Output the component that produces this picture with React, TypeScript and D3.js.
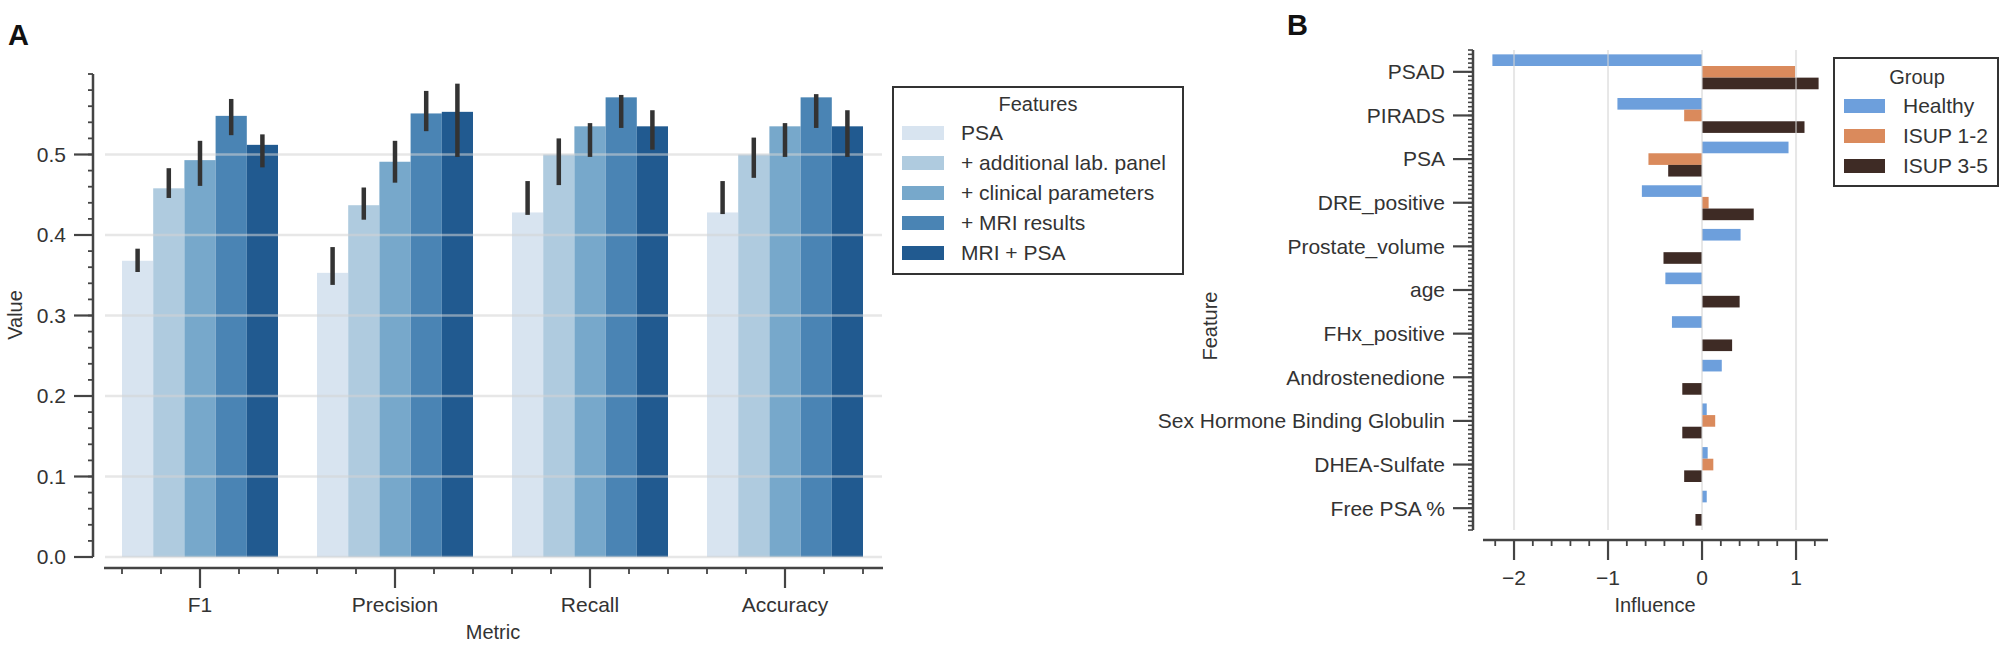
import React, { useEffect, useRef } from 'react'
import * as d3 from 'd3'

// Panel A: model performance by feature set
const metrics = ['F1', 'Precision', 'Recall', 'Accuracy']
const featureSets = ['PSA', '+ additional lab. panel', '+ clinical parameters', '+ MRI results', 'MRI + PSA']
const blues = ['#d8e4f0', '#afcbdf', '#77a8cb', '#4a84b4', '#215a90']

const psaVals = [0.368, 0.353, 0.428, 0.428]
const psaLo = [0.354, 0.338, 0.425, 0.426]
const psaHi = [0.383, 0.385, 0.467, 0.467]

const labVals = [0.458, 0.437, 0.5, 0.5]
const labLo = [0.446, 0.419, 0.462, 0.471]
const labHi = [0.483, 0.459, 0.52, 0.521]

const clinVals = [0.493, 0.491, 0.535, 0.535]
const clinLo = [0.461, 0.465, 0.497, 0.497]
const clinHi = [0.517, 0.517, 0.539, 0.539]

const mriVals = [0.548, 0.551, 0.571, 0.571]
const mriLo = [0.524, 0.529, 0.533, 0.533]
const mriHi = [0.569, 0.579, 0.574, 0.575]

const mriPsaVals = [0.512, 0.553, 0.535, 0.535]
const mriPsaLo = [0.484, 0.497, 0.506, 0.497]
const mriPsaHi = [0.525, 0.588, 0.555, 0.555]

const yTicksA = [0, 0.1, 0.2, 0.3, 0.4, 0.5]

// Panel B: feature influence per group
const features = [
  'PSAD', 'PIRADS', 'PSA', 'DRE_positive', 'Prostate_volume', 'age',
  'FHx_positive', 'Androstenedione', 'Sex Hormone Binding Globulin', 'DHEA-Sulfate', 'Free PSA %',
]
const groups = ['Healthy', 'ISUP 1-2', 'ISUP 3-5']
const groupColors = ['#6d9fdc', '#da8a5c', '#3e2b25']
const healthy = [-2.23, -0.9, 0.92, -0.64, 0.41, -0.39, -0.32, 0.21, 0.05, 0.06, 0.05]
const isup12 = [0.99, -0.19, -0.57, 0.07, 0, 0, 0, 0, 0.14, 0.12, 0]
const isup35 = [1.24, 1.09, -0.36, 0.55, -0.41, 0.4, 0.32, -0.21, -0.21, -0.19, -0.07]
const xTicksB = [-2, -1, 0, 1]

const FONT = 'Liberation Sans, Arial, Helvetica, sans-serif'
const TEXT = '#333'
const AXIS = '#444'

export default function App() {
  const svgRef = useRef<SVGSVGElement>(null)

  useEffect(() => {
    if (!svgRef.current) return
    const svg = d3.select(svgRef.current)
    svg.selectAll('*').remove()

    // ---------- Panel A ----------
    const a = svg.append('g')
    const x0 = d3.scaleBand().domain(metrics).range([102.5, 882.5]).padding(0)
    const x1 = d3.scaleBand().domain(featureSets).range([0, x0.bandwidth() * 0.8])
    const yA = d3.scaleLinear().domain([0, 0.6]).range([557, 74])

    const series = [
      { vals: psaVals, lo: psaLo, hi: psaHi },
      { vals: labVals, lo: labLo, hi: labHi },
      { vals: clinVals, lo: clinLo, hi: clinHi },
      { vals: mriVals, lo: mriLo, hi: mriHi },
      { vals: mriPsaVals, lo: mriPsaLo, hi: mriPsaHi },
    ]

    const barX = (m: string, f: string) => (x0(m) as number) + x0.bandwidth() * 0.1 + (x1(f) as number)

    series.forEach((s, si) => {
      a.selectAll(null)
        .data(metrics)
        .enter()
        .append('rect')
        .attr('x', m => barX(m, featureSets[si]))
        .attr('y', (_, i) => yA(s.vals[i]))
        .attr('width', x1.bandwidth())
        .attr('height', (_, i) => yA(0) - yA(s.vals[i]))
        .attr('fill', blues[si])
    })

    // gridlines drawn over bars, semi transparent
    a.selectAll(null)
      .data(yTicksA)
      .enter()
      .append('line')
      .attr('x1', 105).attr('x2', 882)
      .attr('y1', d => yA(d)).attr('y2', d => yA(d))
      .attr('stroke', '#d4d4d4')
      .attr('stroke-opacity', 0.55)
      .attr('stroke-width', 2.5)

    // error bars
    series.forEach((s, si) => {
      a.selectAll(null)
        .data(metrics)
        .enter()
        .append('line')
        .attr('x1', m => barX(m, featureSets[si]) + x1.bandwidth() / 2)
        .attr('x2', m => barX(m, featureSets[si]) + x1.bandwidth() / 2)
        .attr('y1', (_, i) => yA(s.lo[i]))
        .attr('y2', (_, i) => yA(s.hi[i]))
        .attr('stroke', '#333')
        .attr('stroke-width', 4.5)
    })

    // y axis
    a.append('line').attr('x1', 93).attr('x2', 93).attr('y1', yA(0.6)).attr('y2', yA(0))
      .attr('stroke', AXIS).attr('stroke-width', 2.5)
    a.selectAll(null).data(d3.range(0, 31).map(i => i * 0.02)).enter().append('line')
      .attr('x1', 88).attr('x2', 93)
      .attr('y1', d => yA(d)).attr('y2', d => yA(d))
      .attr('stroke', AXIS).attr('stroke-width', 1.8)
    a.selectAll(null).data(yTicksA).enter().append('line')
      .attr('x1', 74).attr('x2', 93)
      .attr('y1', d => yA(d)).attr('y2', d => yA(d))
      .attr('stroke', AXIS).attr('stroke-width', 2.2)
    a.selectAll(null).data(yTicksA).enter().append('text')
      .attr('x', 66).attr('y', d => yA(d))
      .attr('dy', '0.35em')
      .attr('text-anchor', 'end')
      .attr('font-size', 21).attr('font-family', FONT).attr('fill', TEXT)
      .text(d => d3.format('.1f')(d))
    a.append('text')
      .attr('transform', 'translate(22,315) rotate(-90)')
      .attr('text-anchor', 'middle')
      .attr('font-size', 20).attr('font-family', FONT).attr('fill', TEXT)
      .text('Value')

    // x axis
    const catPos = d3.scaleLinear().domain([-0.5, 3.5]).range([102.5, 882.5])
    a.append('line').attr('x1', 104).attr('x2', 883).attr('y1', 568).attr('y2', 568)
      .attr('stroke', AXIS).attr('stroke-width', 2.5)
    const minorA = d3.range(-2, 18).map(i => i * 0.2).filter(v => Math.abs(v - Math.round(v)) > 0.01)
    a.selectAll(null).data(minorA).enter().append('line')
      .attr('x1', d => catPos(d)).attr('x2', d => catPos(d))
      .attr('y1', 568).attr('y2', 574)
      .attr('stroke', AXIS).attr('stroke-width', 1.8)
    a.selectAll(null).data(metrics).enter().append('line')
      .attr('x1', m => (x0(m) as number) + x0.bandwidth() / 2)
      .attr('x2', m => (x0(m) as number) + x0.bandwidth() / 2)
      .attr('y1', 568).attr('y2', 588)
      .attr('stroke', AXIS).attr('stroke-width', 2.2)
    a.selectAll(null).data(metrics).enter().append('text')
      .attr('x', m => (x0(m) as number) + x0.bandwidth() / 2)
      .attr('y', 605).attr('dy', '0.35em')
      .attr('text-anchor', 'middle')
      .attr('font-size', 21).attr('font-family', FONT).attr('fill', TEXT)
      .text(m => m)
    a.append('text')
      .attr('x', 493).attr('y', 632).attr('dy', '0.35em')
      .attr('text-anchor', 'middle')
      .attr('font-size', 20).attr('font-family', FONT).attr('fill', TEXT)
      .text('Metric')

    a.append('text')
      .attr('x', 8).attr('y', 45)
      .attr('font-size', 29).attr('font-weight', 'bold').attr('font-family', FONT).attr('fill', '#111')
      .text('A')

    // legend A
    const legA = a.append('g')
    legA.append('rect').attr('x', 893).attr('y', 87).attr('width', 290).attr('height', 187)
      .attr('fill', 'white').attr('stroke', '#333').attr('stroke-width', 2)
    legA.append('text').attr('x', 1038).attr('y', 104).attr('dy', '0.35em')
      .attr('text-anchor', 'middle')
      .attr('font-size', 20).attr('font-family', FONT).attr('fill', TEXT)
      .text('Features')
    featureSets.forEach((f, i) => {
      const cy = 133 + i * 30
      legA.append('rect').attr('x', 902).attr('y', cy - 7).attr('width', 42).attr('height', 14).attr('fill', blues[i])
      legA.append('text').attr('x', 961).attr('y', cy).attr('dy', '0.35em')
        .attr('font-size', 21).attr('font-family', FONT).attr('fill', TEXT)
        .text(f)
    })

    // ---------- Panel B ----------
    const b = svg.append('g')
    const xB = d3.scaleLinear().domain([-2.33, 1.34]).range([1483, 1828])
    const yB = d3.scaleBand().domain(features).range([50, 530]).padding(0)
    const yG = d3.scaleBand().domain(groups).range([0, yB.bandwidth() * 0.8])
    const groupVals = [healthy, isup12, isup35]

    groupVals.forEach((vals, gi) => {
      b.selectAll(null)
        .data(features)
        .enter()
        .append('rect')
        .attr('x', (_, i) => xB(Math.min(0, vals[i])))
        .attr('y', f => (yB(f) as number) + yB.bandwidth() * 0.1 + (yG(groups[gi]) as number))
        .attr('width', (_, i) => Math.abs(xB(vals[i]) - xB(0)))
        .attr('height', yG.bandwidth())
        .attr('fill', groupColors[gi])
    })

    b.selectAll(null).data(xTicksB).enter().append('line')
      .attr('x1', d => xB(d)).attr('x2', d => xB(d))
      .attr('y1', 50).attr('y2', 530)
      .attr('stroke', '#d4d4d4').attr('stroke-opacity', 0.55).attr('stroke-width', 2)

    // y axis
    const catB = d3.scaleLinear().domain([-0.5, 10.5]).range([50, 530])
    b.append('line').attr('x1', 1473).attr('x2', 1473).attr('y1', 50).attr('y2', 530)
      .attr('stroke', AXIS).attr('stroke-width', 2.5)
    b.selectAll(null).data(d3.range(-5, 106).map(i => i / 10)).enter().append('line')
      .attr('x1', 1468).attr('x2', 1473)
      .attr('y1', d => catB(d)).attr('y2', d => catB(d))
      .attr('stroke', AXIS).attr('stroke-width', 1.6)
    b.selectAll(null).data(features).enter().append('line')
      .attr('x1', 1453).attr('x2', 1473)
      .attr('y1', f => (yB(f) as number) + yB.bandwidth() / 2)
      .attr('y2', f => (yB(f) as number) + yB.bandwidth() / 2)
      .attr('stroke', AXIS).attr('stroke-width', 2.2)
    b.selectAll(null).data(features).enter().append('text')
      .attr('x', 1445)
      .attr('y', f => (yB(f) as number) + yB.bandwidth() / 2)
      .attr('dy', '0.35em')
      .attr('text-anchor', 'end')
      .attr('font-size', 21).attr('font-family', FONT).attr('fill', TEXT)
      .text(f => f)
    b.append('text')
      .attr('transform', 'translate(1217,326) rotate(-90)')
      .attr('text-anchor', 'middle')
      .attr('font-size', 20).attr('font-family', FONT).attr('fill', TEXT)
      .text('Feature')

    // x axis
    b.append('line').attr('x1', xB(-2.33)).attr('x2', xB(1.34)).attr('y1', 540).attr('y2', 540)
      .attr('stroke', AXIS).attr('stroke-width', 2.5)
    const minorB = d3.range(-11, 7).map(i => i * 0.2).filter(v => Math.abs(v - Math.round(v)) > 0.01)
    b.selectAll(null).data(minorB).enter().append('line')
      .attr('x1', d => xB(d)).attr('x2', d => xB(d))
      .attr('y1', 540).attr('y2', 546)
      .attr('stroke', AXIS).attr('stroke-width', 1.8)
    b.selectAll(null).data(xTicksB).enter().append('line')
      .attr('x1', d => xB(d)).attr('x2', d => xB(d))
      .attr('y1', 540).attr('y2', 560)
      .attr('stroke', AXIS).attr('stroke-width', 2.2)
    b.selectAll(null).data(xTicksB).enter().append('text')
      .attr('x', d => xB(d)).attr('y', 578).attr('dy', '0.35em')
      .attr('text-anchor', 'middle')
      .attr('font-size', 21).attr('font-family', FONT).attr('fill', TEXT)
      .text(d => (d < 0 ? '\u2212' + Math.abs(d) : String(d)))
    b.append('text')
      .attr('x', 1655).attr('y', 605).attr('dy', '0.35em')
      .attr('text-anchor', 'middle')
      .attr('font-size', 20).attr('font-family', FONT).attr('fill', TEXT)
      .text('Influence')

    b.append('text')
      .attr('x', 1287).attr('y', 35)
      .attr('font-size', 29).attr('font-weight', 'bold').attr('font-family', FONT).attr('fill', '#111')
      .text('B')

    // legend B
    const legB = b.append('g')
    legB.append('rect').attr('x', 1834).attr('y', 58).attr('width', 164).attr('height', 128)
      .attr('fill', 'white').attr('stroke', '#333').attr('stroke-width', 2)
    legB.append('text').attr('x', 1917).attr('y', 77).attr('dy', '0.35em')
      .attr('text-anchor', 'middle')
      .attr('font-size', 20).attr('font-family', FONT).attr('fill', TEXT)
      .text('Group')
    groups.forEach((g, i) => {
      const cy = 106 + i * 30
      legB.append('rect').attr('x', 1844).attr('y', cy - 7).attr('width', 41).attr('height', 14).attr('fill', groupColors[i])
      legB.append('text').attr('x', 1903).attr('y', cy).attr('dy', '0.35em')
        .attr('font-size', 21).attr('font-family', FONT).attr('fill', TEXT)
        .text(g)
    })
  }, [])

  return (
    <svg
      ref={svgRef}
      width={2008}
      height={661}
      style={{ position: 'absolute', left: 0, top: 0, background: 'white' }}
    />
  )
}
